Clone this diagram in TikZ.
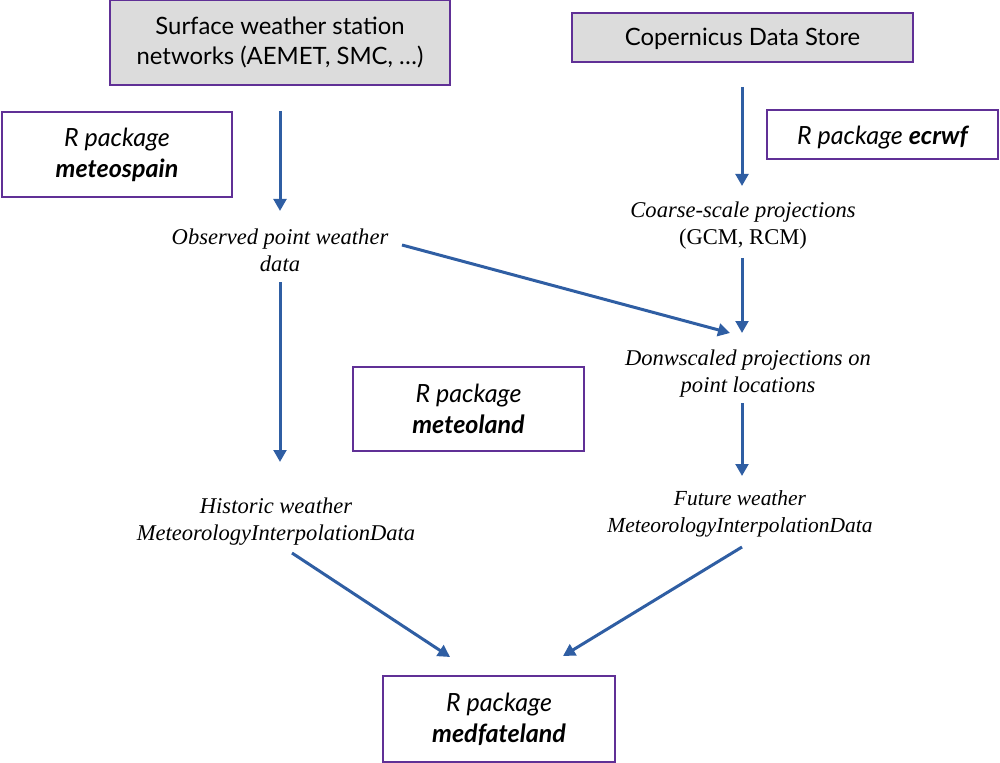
\documentclass[tikz,border=0pt]{standalone}
\usepackage{fontspec}
\setmainfont{Liberation Serif}
\newfontfamily\boxfont{Lato}
\usepackage{tikz}
\usetikzlibrary{arrows.meta,calc,positioning}
\definecolor{boxline}{RGB}{96,48,150}
\definecolor{boxfill}{RGB}{220,220,220}
\definecolor{arrblue}{RGB}{47,94,163}

\begin{document}
\begin{tikzpicture}
          [x=0.75pt, y=-0.75pt,
           box/.style={draw=boxline, line width=1pt, align=center, inner sep=0pt,
             font=\boxfont\fontsize{18.8}{23.25}\selectfont},
           src/.style={box, fill=boxfill, font=\boxfont\fontsize{17.9}{22.5}\selectfont},
           lab/.style={align=center, inner sep=0pt, font=\itshape\fontsize{16.9}{20.25}\selectfont},
           arr/.style={draw=arrblue, line width=2.25pt, -{Triangle[width=9.5pt,length=9pt]}}]
          \useasboundingbox (0,0) rectangle (1000,763);

          % boxes
          \node (surf) [src, minimum width=255pt, minimum height=63.75pt] at (280,42.5)
            {Surface weather station\\networks (AEMET, SMC, …)};
          \node (cds) [src, minimum width=255.75pt, minimum height=36.75pt] at (742.5,37.5)
            {\raisebox{-0.75pt}[\height][\depth]{Copernicus Data Store}};
          \node (mspain) [box, minimum width=172.5pt, minimum height=63.75pt] at (117,154.5)
            {\itshape R package\\\bfseries\itshape meteospain};
          \node (ecrwf) [box, minimum width=173.25pt, minimum height=36.75pt] at (882.5,134.5)
            {\raisebox{-2.25pt}[\height][\depth]{\itshape R package \bfseries ecrwf}};
          \node (mland) [box, minimum width=173.25pt, minimum height=63pt] at (468.5,409)
            {\itshape R package\\\bfseries\itshape meteoland};
          \node (mfl) [box, minimum width=174pt, minimum height=64.5pt] at (499,719)
            {\itshape R package\\\bfseries\itshape medfateland};

          % data
          \node (obs) [lab] at (280,250) {Observed point weather\\data};
          \node (coarse) [lab] at (743,226) {Coarse-scale projections\\\upshape (GCM, RCM)};
          \node (down) [lab] at (748,374) {Donwscaled projections on\\point locations};
          \node (hist) [lab] at (276,522) {Historic weather\\MeteorologyInterpolationData};
          \node (fut) [lab, font=\itshape\fontsize{16.1}{20.25}\selectfont] at (740,514)
            {Future weather\\MeteorologyInterpolationData};

          \draw[arr] ($(surf.center)+(0,68.5)$) -- ($(obs.center)+(0,-39)$);
          \draw[arr] ($(cds.center)+(-0.5,49.5)$) -- ($(coarse.center)+(-1,-40)$);
          \draw[arr] ($(obs.center)+(0,32)$) -- ($(hist.center)+(4,-60)$);
          \draw[arr] ($(obs.center)+(122,-5)$) -- ($(down.center)+(-18,-41)$);
          \draw[arr] ($(coarse.center)+(-1,32)$) -- ($(down.center)+(-6,-41)$);
          \draw[arr] ($(down.center)+(-6,29)$) -- ($(fut.center)+(2,-38)$);
          \draw[arr] ($(hist.center)+(16,31)$) -- ($(mfl.center)+(-49,-62)$);
          \draw[arr] ($(fut.center)+(2,33)$) -- ($(mfl.center)+(64,-63)$);
        \end{tikzpicture}
\end{document}
